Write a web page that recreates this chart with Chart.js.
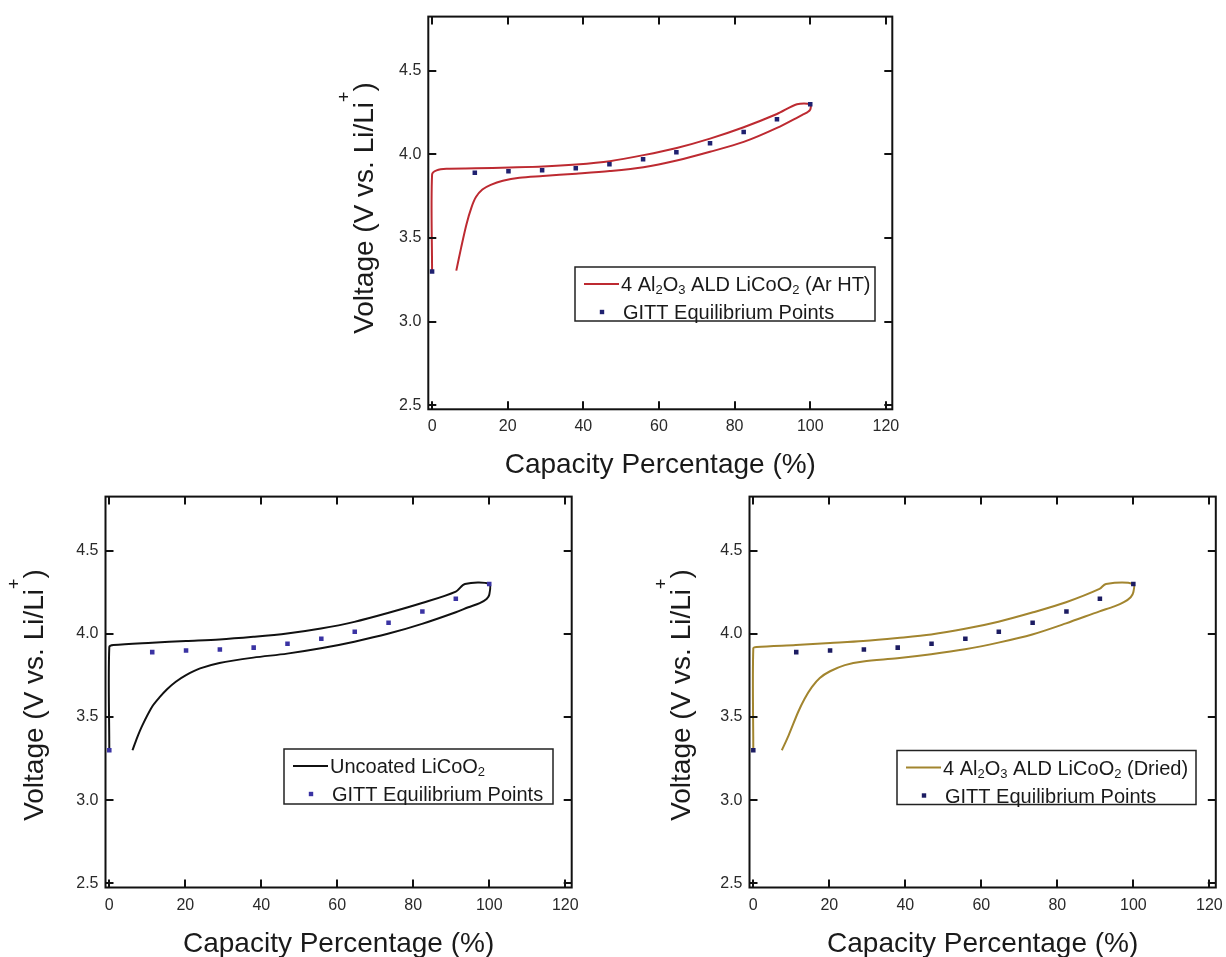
<!DOCTYPE html>
<html>
<head>
<meta charset="utf-8">
<script src="https://cdn.jsdelivr.net/npm/chart.js@4.4.1/dist/chart.umd.min.js"></script>
<style>
  html, body { margin: 0; padding: 0; background: #fff; width: 1226px; height: 957px; overflow: hidden; }
  canvas { position: absolute; }
</style>
</head>
<body>
<canvas id="chartArHT" width="580" height="480" style="left:330px;top:0px"></canvas>
<canvas id="chartUncoated" width="600" height="477" style="left:0px;top:480px"></canvas>
<canvas id="chartDried" width="626" height="477" style="left:620px;top:480px"></canvas>
<script>
// ---- axis ticks ----
const xTicks = [0, 20, 40, 60, 80, 100, 120];
const yTicks = [2.5, 3.0, 3.5, 4.0, 4.5];

// ---- axis titles ----
const xAxisTitle = 'Capacity Percentage (%)';
const yAxisTitle = 'Voltage (V vs. Li/Li⁺)';

// ---- GITT equilibrium points (same set in every panel) ----
const gittLabel = 'GITT Equilibrium Points';
const gittCapacity = [0, 11.3, 20.2, 29.1, 38.0, 46.9, 55.8, 64.6, 73.5, 82.4, 91.2, 100];
const gittVoltage  = [3.30, 3.890, 3.900, 3.906, 3.917, 3.941, 3.971, 4.013, 4.067, 4.134, 4.211, 4.30];

// ---- 4 Al2O3 ALD LiCoO2 (Ar HT): charge then discharge ----
const arHtLabel = '4 Al₂O₃ ALD LiCoO₂ (Ar HT)';
const arHtCapacity = [0, 0, 1.2, 3.8, 11.5, 20.5, 29.3, 38.1, 47.0, 55.9, 64.7, 73.5, 82.4, 91.2, 96.5, 100,
                      100, 99.2, 97.8, 91.2, 82.4, 73.5, 64.7, 55.9, 47.0, 38.1, 29.3, 23.1, 18.7, 15.5, 13.3, 11.6, 10.4, 9.1, 7.7, 6.4];
const arHtVoltage  = [3.30, 3.88, 3.905, 3.915, 3.917, 3.922, 3.928, 3.940, 3.960, 3.996, 4.039, 4.095, 4.163, 4.242, 4.30, 4.30,
                      4.268, 4.252, 4.236, 4.159, 4.075, 4.016, 3.964, 3.924, 3.901, 3.885, 3.871, 3.861, 3.843, 3.818, 3.790, 3.745, 3.682, 3.583, 3.444, 3.305];

// ---- Uncoated LiCoO2 ----
const uncoatedLabel = 'Uncoated LiCoO₂';
const uncoatedCapacity = [0, 0, 1.1, 11.3, 20.2, 29.0, 37.9, 46.8, 55.7, 64.5, 73.3, 82.3, 91.2, 93.6, 100,
                          100, 99.3, 97.5, 94.5, 91.2, 82.3, 73.3, 64.5, 55.7, 46.8, 37.9, 29.0, 23.9, 20.2, 17.5, 15.2, 13.2, 11.3, 8.7, 7.3, 6.1];
const uncoatedVoltage  = [3.30, 3.921, 3.933, 3.947, 3.957, 3.966, 3.982, 4.002, 4.032, 4.072, 4.125, 4.185, 4.254, 4.30, 4.30,
                          4.235, 4.21, 4.185, 4.16, 4.13, 4.06, 4.00, 3.953, 3.913, 3.881, 3.857, 3.825, 3.792, 3.752, 3.712, 3.667, 3.618, 3.563, 3.45, 3.375, 3.30];

// ---- 4 Al2O3 ALD LiCoO2 (Dried) ----
const driedLabel = '4 Al₂O₃ ALD LiCoO₂ (Dried)';
const driedCapacity = [0, 0, 0.9, 11.2, 20.2, 28.9, 37.9, 46.8, 55.7, 64.5, 73.4, 82.3, 91.1, 92.8, 100,
                       100, 99.3, 97.5, 95.0, 91.1, 82.3, 73.4, 64.5, 55.7, 46.8, 37.9, 28.9, 24.1, 20.2, 17.5, 15.4, 13.5, 11.8, 9.3, 7.5];
const driedVoltage  = [3.30, 3.913, 3.921, 3.933, 3.945, 3.957, 3.975, 3.996, 4.030, 4.073, 4.128, 4.190, 4.270, 4.30, 4.30,
                       4.25, 4.22, 4.19, 4.165, 4.135, 4.063, 3.996, 3.947, 3.907, 3.877, 3.853, 3.834, 3.812, 3.775, 3.735, 3.68, 3.61, 3.53, 3.39, 3.30];

const FONT = "'Liberation Sans', Arial, Helvetica, sans-serif";
const SUB = { '₀': '0', '₁': '1', '₂': '2', '₃': '3', '₄': '4', '₅': '5', '₆': '6', '₇': '7', '₈': '8', '₉': '9' };
const SUP = { '⁺': '+', '⁻': '-' };

// split a label into normal / subscript / superscript runs
function runsOf(text) {
  const runs = [];
  for (const ch of text) {
    const kind = SUB[ch] ? 'sub' : (SUP[ch] ? 'sup' : 'n');
    const c = SUB[ch] || SUP[ch] || ch;
    const last = runs[runs.length - 1];
    if (last && last.kind === kind) last.s += c; else runs.push({ kind, s: c });
  }
  return runs;
}
function runFont(kind, size) {
  const s = kind === 'n' ? size : Math.round(size * 0.64);
  return s + 'px ' + FONT;
}
function runShift(kind, size) {
  if (kind === 'sub') return size * 0.16;
  if (kind === 'sup') return -size * 0.82;
  return 0;
}
function richWidth(ctx, text, size) {
  let w = 0;
  for (const r of runsOf(text)) { ctx.font = runFont(r.kind, size); w += ctx.measureText(r.s).width; }
  return w;
}
// draws text starting at x with alphabetic baseline y
function drawRich(ctx, text, x, y, size, color) {
  ctx.fillStyle = color;
  ctx.textAlign = 'left';
  ctx.textBaseline = 'alphabetic';
  for (const r of runsOf(text)) {
    ctx.font = runFont(r.kind, size);
    ctx.fillText(r.s, x, y + runShift(r.kind, size));
    x += ctx.measureText(r.s).width;
  }
}

const TICK_LEN = 8;

// frame, inward tick marks, axis titles and boxed legend
const decorations = {
  id: 'decorations',
  afterDraw(chart, args, o) {
    const { ctx, chartArea: a, scales } = chart;
    const xs = scales.x, ys = scales.y;
    ctx.save();
    ctx.strokeStyle = '#111';
    ctx.lineWidth = 2;
    ctx.beginPath();
    for (const t of xs.ticks) {
      const px = Math.round(xs.getPixelForValue(t.value));
      ctx.moveTo(px, a.bottom); ctx.lineTo(px, a.bottom - TICK_LEN);
      ctx.moveTo(px, a.top); ctx.lineTo(px, a.top + TICK_LEN);
    }
    for (const t of ys.ticks) {
      const py = Math.round(ys.getPixelForValue(t.value));
      ctx.moveTo(a.left, py); ctx.lineTo(a.left + TICK_LEN, py);
      ctx.moveTo(a.right, py); ctx.lineTo(a.right - TICK_LEN, py);
    }
    ctx.stroke();
    ctx.strokeRect(a.left, a.top, a.right - a.left, a.bottom - a.top);

    // x-axis title
    const tSize = 28;
    const xw = richWidth(ctx, xAxisTitle, tSize);
    drawRich(ctx, xAxisTitle, (a.left + a.right) / 2 - xw / 2, o.xTitleY + 10, tSize, '#1a1a1a');

    // y-axis title, rotated
    ctx.save();
    ctx.translate(o.yTitleX, o.yTitleY);
    ctx.rotate(-Math.PI / 2);
    const yw = richWidth(ctx, yAxisTitle, tSize);
    drawRich(ctx, yAxisTitle, -yw / 2, 10, tSize, '#1a1a1a');
    ctx.restore();

    // legend box
    const L = o.legend;
    ctx.lineWidth = 1.5;
    ctx.strokeStyle = '#222';
    ctx.strokeRect(L.left, L.top, L.width, L.height);
    const lSize = 20;
    chart.data.datasets.forEach((ds, i) => {
      const cy = L.top + (i === 0 ? 17 : 45);
      if (ds.showLine) {
        ctx.strokeStyle = ds.borderColor;
        ctx.lineWidth = 2;
        ctx.beginPath();
        ctx.moveTo(L.left + 9, cy); ctx.lineTo(L.left + 44, cy);
        ctx.stroke();
        drawRich(ctx, ds.label, L.left + 46, cy + 7, lSize, '#1a1a1a');
      } else {
        ctx.fillStyle = ds.pointBackgroundColor;
        ctx.fillRect(L.left + 27 - 2.2, cy - 2.2, 4.4, 4.4);
        drawRich(ctx, ds.label, L.left + 48, cy + 7, lSize, '#1a1a1a');
      }
    });
    ctx.restore();
  }
};

function toPoints(xs, ys) { return xs.map((x, i) => ({ x, y: ys[i] })); }

function buildChart(id, spec) {
  return new Chart(document.getElementById(id), {
    type: 'scatter',
    data: {
      datasets: [
        {
          label: spec.label,
          data: toPoints(spec.capacity, spec.voltage),
          showLine: true,
          borderColor: spec.color,
          borderWidth: 2,
          pointRadius: 0,
          tension: 0.3,
          fill: false,
          order: 1
        },
        {
          label: gittLabel,
          data: toPoints(gittCapacity, gittVoltage),
          showLine: false,
          pointStyle: 'rect',
          pointRadius: 3.2,
          pointBackgroundColor: spec.dotColor,
          pointBorderColor: spec.dotColor,
          pointBorderWidth: 0,
          order: 0
        }
      ]
    },
    options: {
      responsive: false,
      animation: false,
      devicePixelRatio: 1,
      events: [],
      layout: { padding: spec.padding },
      plugins: {
        legend: { display: false },
        tooltip: { enabled: false },
        decorations: {
          xTitleY: spec.xTitleY,
          yTitleX: spec.yTitleX,
          yTitleY: spec.yTitleY,
          legend: spec.legendBox
        }
      },
      scales: {
        x: {
          type: 'linear',
          min: -1,
          max: 121.7,
          afterBuildTicks: s => { s.ticks = xTicks.map(v => ({ value: v })); },
          afterFit: s => { s.height = spec.xAxisHeight; },
          grid: { display: false, drawTicks: false },
          border: { display: false },
          ticks: {
            padding: 8, autoSkip: false, maxRotation: 0, color: '#2a2a2a',
            font: { family: FONT, size: 16 },
            callback: v => String(v)
          }
        },
        y: {
          type: 'linear',
          min: 2.475,
          max: 4.825,
          afterBuildTicks: s => { s.ticks = yTicks.map(v => ({ value: v })); },
          afterFit: s => { s.width = spec.yAxisWidth; },
          grid: { display: false, drawTicks: false },
          border: { display: false },
          ticks: {
            padding: 7, autoSkip: false, color: '#2a2a2a',
            font: { family: FONT, size: 16 },
            callback: v => Number(v).toFixed(1)
          }
        }
      }
    },
    plugins: [decorations]
  });
}

buildChart('chartArHT', {
  label: arHtLabel, capacity: arHtCapacity, voltage: arHtVoltage,
  color: '#bd2a31', dotColor: '#1f2170',
  padding: { left: 0, top: 15, right: 17.7, bottom: 0 },
  yAxisWidth: 98.3, xAxisHeight: 70.7,
  xTitleY: 463, yTitleX: 33, yTitleY: 208,
  legendBox: { left: 245, top: 267, width: 300, height: 54 }
});

buildChart('chartUncoated', {
  label: uncoatedLabel, capacity: uncoatedCapacity, voltage: uncoatedVoltage,
  color: '#111111', dotColor: '#3a33a3',
  padding: { left: 0, top: 13.3, right: 28.3, bottom: 0 },
  yAxisWidth: 105.5, xAxisHeight: 69.5,
  xTitleY: 462, yTitleX: 33, yTitleY: 215,
  legendBox: { left: 284, top: 269, width: 269, height: 55 }
});

buildChart('chartDried', {
  label: driedLabel, capacity: driedCapacity, voltage: driedVoltage,
  color: '#a2852f', dotColor: '#1c1c62',
  padding: { left: 0, top: 13.3, right: 30.2, bottom: 0 },
  yAxisWidth: 129.5, xAxisHeight: 69.5,
  xTitleY: 462, yTitleX: 60, yTitleY: 215,
  legendBox: { left: 277, top: 270.5, width: 299, height: 54 }
});
</script>
</body>
</html>
